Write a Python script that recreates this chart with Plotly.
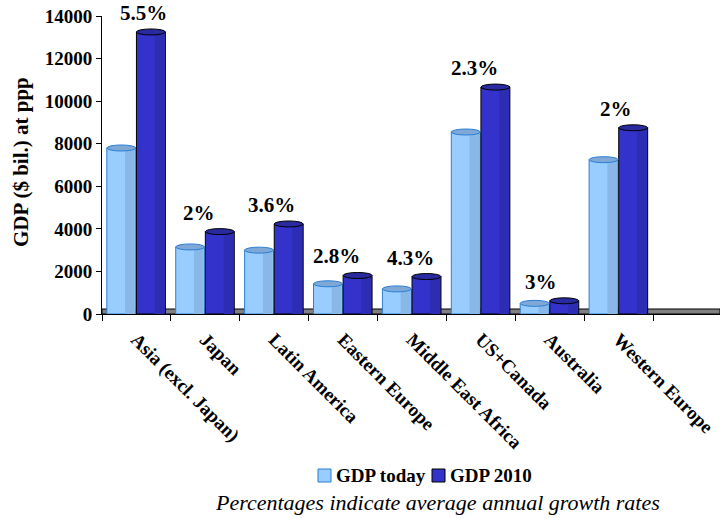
import plotly.graph_objects as go

categories = ["Asia (excl. Japan)", "Japan", "Latin America", "Eastern Europe",
              "Middle East Africa", "US+Canada", "Australia", "Western Europe"]
gdp_today = [7800, 3150, 3000, 1420, 1180, 8550, 500, 7250]
gdp_2010 = [13250, 3870, 4230, 1810, 1760, 10660, 620, 8750]
growth = ["5.5%", "2%", "3.6%", "2.8%", "4.3%", "2.3%", "3%", "2%"]

# layout-only: horizontal nudge (px) of each growth label
label_nudge = [7, -6, -3, -7, -2, -6, -9, -3]

FONT = "Liberation Serif, Times New Roman, serif"
BW = 0.42
OFF_T = -0.43
OFF_D = 0.0

# plot-area geometry in px (for paper coordinates)
PL, PR, PT, PB = 102, 720, 16, 314
def px_x(px):
    return (px - PL) / (PR - PL)
def px_y(py):
    return (PB - py) / (PB - PT)

fig = go.Figure()
fig.add_trace(go.Bar(x=categories, y=gdp_today, name="GDP today", width=BW, offset=OFF_T,
                     marker=dict(color="#99ccff", line=dict(color="#2a7fd4", width=1)),
                     showlegend=False))
fig.add_trace(go.Bar(x=categories, y=gdp_today, width=0.14, offset=OFF_T + BW - 0.155,
                     marker=dict(color="#89b8e8", line=dict(width=0)), showlegend=False,
                     hoverinfo="skip"))
fig.add_trace(go.Bar(x=categories, y=gdp_2010, name="GDP 2010", width=BW, offset=OFF_D,
                     marker=dict(color="#3333cc", line=dict(color="#000000", width=1)),
                     showlegend=False))
fig.add_trace(go.Bar(x=categories, y=gdp_2010, width=0.14, offset=OFF_D + BW - 0.155,
                     marker=dict(color="#2d2db4", line=dict(width=0)), showlegend=False,
                     hoverinfo="skip"))

shapes = []
shapes.append(dict(type="rect", xref="paper", x0=0, x1=1, yref="y", ysizemode="pixel",
                   yanchor=0, y0=0, y1=5, fillcolor="#808080",
                   line=dict(color="#000000", width=1), layer="below"))
for i in range(len(categories)):
    shapes.append(dict(type="circle", xref="x", x0=i + OFF_T, x1=i + OFF_T + BW,
                       yref="y", ysizemode="pixel", yanchor=gdp_today[i], y0=-3, y1=3,
                       fillcolor="#7fa8d6", line=dict(color="#2a7fd4", width=1)))
    shapes.append(dict(type="circle", xref="x", x0=i + OFF_D, x1=i + OFF_D + BW,
                       yref="y", ysizemode="pixel", yanchor=gdp_2010[i], y0=-3, y1=3,
                       fillcolor="#2a2aa0", line=dict(color="#000000", width=1)))

# manual legend
legend_items = [("GDP today", "#99ccff", "#2a7fd4", 318), ("GDP 2010", "#3333cc", "#000000", 432)]
annotations = []
for name, fc, lc, sx in legend_items:
    shapes.append(dict(type="rect", xref="paper", yref="paper",
                       x0=px_x(sx), x1=px_x(sx + 13), y0=px_y(482), y1=px_y(469),
                       fillcolor=fc, line=dict(color=lc, width=1)))
    annotations.append(dict(x=px_x(sx + 16), y=px_y(475.5), xref="paper", yref="paper",
                            text=name, showarrow=False, xanchor="left", yanchor="middle",
                            font=dict(family=FONT, size=19, color="black", weight="bold")))

for i, g in enumerate(growth):
    annotations.append(dict(x=i, y=gdp_2010[i], xref="x", yref="y", text=g, showarrow=False,
                            xshift=label_nudge[i], yshift=19, yanchor="middle",
                            font=dict(family=FONT, size=21, color="black", weight="bold")))
annotations.append(dict(x=px_x(21), y=px_y(162), xref="paper", yref="paper",
                        text="GDP ($ bil.) at ppp", textangle=-90, showarrow=False,
                        xanchor="center", yanchor="middle",
                        font=dict(family=FONT, size=21, color="black", weight="bold")))
annotations.append(dict(x=px_x(437), y=px_y(502), xref="paper", yref="paper",
                        text="<i>Percentages indicate average annual growth rates</i>",
                        showarrow=False, xanchor="center", yanchor="middle",
                        font=dict(family=FONT, size=22, color="black")))

fig.update_layout(
    width=720, height=518,
    margin=dict(l=PL, r=720 - PR, t=PT, b=518 - PB),
    paper_bgcolor="white", plot_bgcolor="white",
    barmode="overlay",
    shapes=shapes, annotations=annotations,
    showlegend=False,
    xaxis=dict(type="category", range=[-0.5, 8.47], tickson="boundaries",
               ticks="outside", ticklen=6, tickcolor="black", showline=True,
               linecolor="black", linewidth=1, showgrid=False, tickangle=45,
               ticklabelstandoff=6,
               tickfont=dict(family=FONT, size=19, color="black", weight="bold")),
    yaxis=dict(range=[0, 14000], tickvals=[0, 2000, 4000, 6000, 8000, 10000, 12000, 14000],
               tickformat="d",
               ticks="outside", ticklen=5, tickcolor="black", showline=True,
               linecolor="black", linewidth=1, showgrid=False, zeroline=False,
               tickfont=dict(family=FONT, size=19, color="black", weight="bold")),
)

fig.write_html("out.html")
